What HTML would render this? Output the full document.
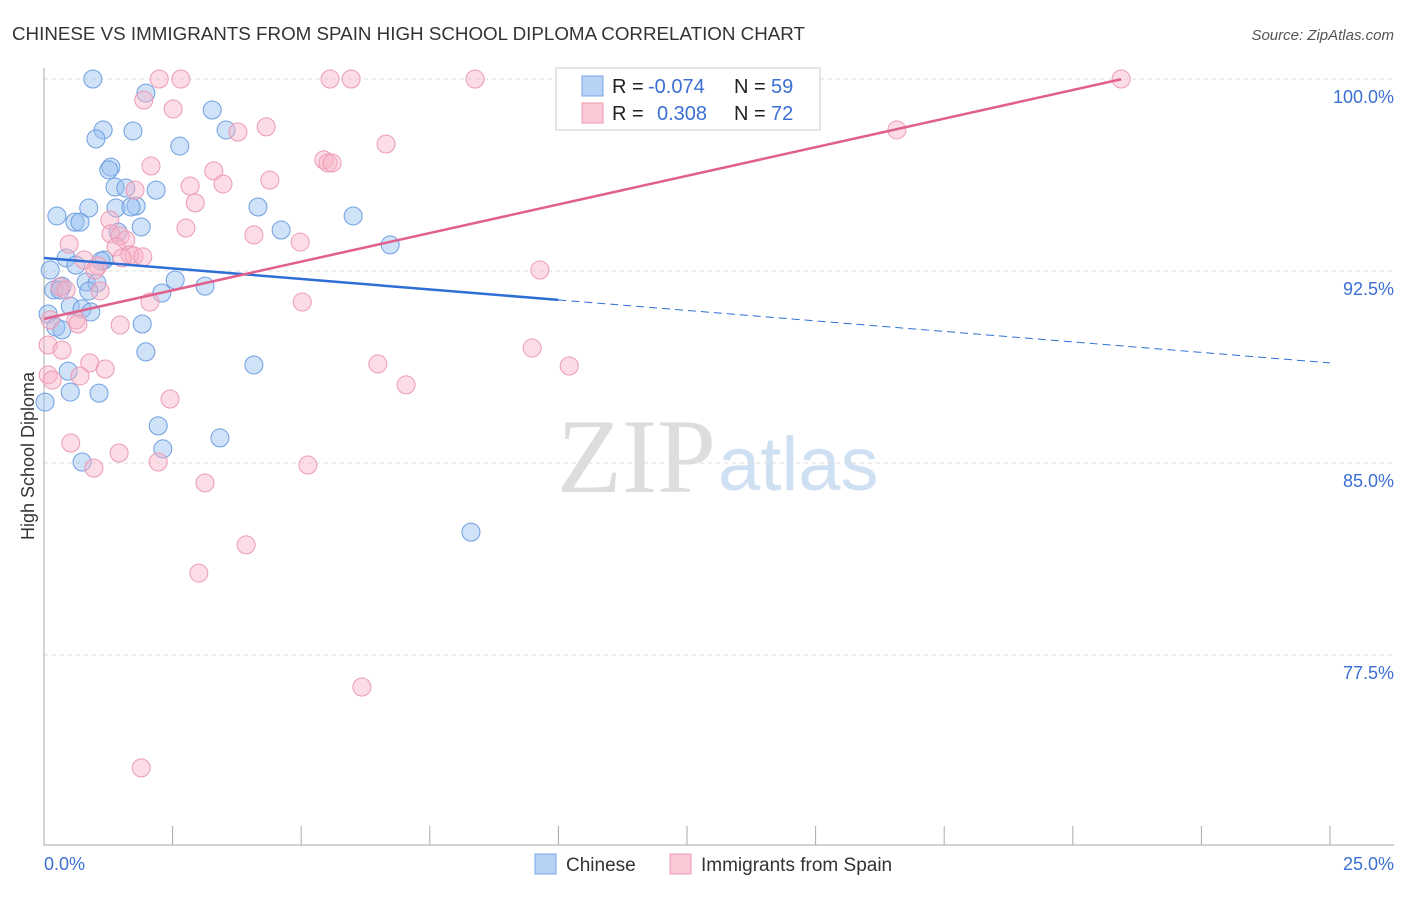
<!DOCTYPE html>
<html><head><meta charset="utf-8"><style>
body{margin:0;background:#fff;font-family:"Liberation Sans",sans-serif;}
</style></head><body>
<svg id="chart" width="1406" height="892" xmlns="http://www.w3.org/2000/svg" style="font-family:'Liberation Sans',sans-serif">
<text x="12" y="40" font-size="18" fill="#333" textLength="793" lengthAdjust="spacingAndGlyphs">CHINESE VS IMMIGRANTS FROM SPAIN HIGH SCHOOL DIPLOMA CORRELATION CHART</text>
<text x="1394" y="40" font-size="15" fill="#555" font-style="italic" text-anchor="end">Source: ZipAtlas.com</text>
<text x="716" y="492" font-size="106" text-anchor="end" fill="#ddd" font-family="Liberation Serif">ZIP</text>
<text x="718" y="490" font-size="76" fill="#cfe0f3">atlas</text>
<g id="grid"></g><g id="axes"></g><g id="pts"></g><g id="trends"></g>
<text transform="translate(34,456) rotate(-90)" font-size="18" fill="#333" text-anchor="middle">High School Diploma</text>
<text x="44" y="870" font-size="18" fill="#3b6fd4">0.0%</text>
<text x="1394" y="870" font-size="18" fill="#3b6fd4" text-anchor="end">25.0%</text>
<g>
<rect x="556" y="68" width="264" height="62" fill="#fff" stroke="#ccc"/>
<rect x="582" y="76" width="21" height="20" fill="#b8d2f5" stroke="#7aa6e6"/>
<rect x="582" y="103" width="21" height="20" fill="#fbc8d6" stroke="#ee9ab6"/>
<text x="612" y="93" font-size="20" fill="#222">R = <tspan x="648" fill="#3b6fd4">-0.074</tspan><tspan x="734">N = </tspan><tspan x="771" fill="#3b6fd4">59</tspan></text>
<text x="612" y="120" font-size="20" fill="#222">R = <tspan x="657" fill="#3b6fd4">0.308</tspan><tspan x="734">N = </tspan><tspan x="771" fill="#3b6fd4">72</tspan></text>
</g>
<g>
<rect x="535" y="854" width="21" height="20" fill="#b8d2f5" stroke="#7aa6e6"/>
<text x="566" y="871" font-size="19" fill="#333">Chinese</text>
<rect x="670" y="854" width="21" height="20" fill="#fbc8d6" stroke="#ee9ab6"/>
<text x="701" y="871" font-size="19" fill="#333">Immigrants from Spain</text>
</g>
</svg>
<script>
const yTicks=[100,92.5,85,77.5];
const yTickLabels=["100.0%","92.5%","85.0%","77.5%"];
const xTicks=[0,2.5,5,7.5,10,12.5,15,17.5,20,22.5,25];
const chineseX=[0.95,1.98,3.27,1.15,1.73,3.54,1.01,2.64,1.30,1.26,1.38,1.59,2.18,1.79,1.40,1.69,0.87,4.16,0.25,6.01,0.60,0.70,1.89,4.61,1.44,6.73,0.43,1.17,1.11,0.62,0.12,2.55,0.82,1.03,0.35,0.19,3.13,0.87,2.29,0.51,0.74,0.91,0.08,0.23,0.35,1.91,1.98,4.08,0.47,1.07,0.51,0.02,2.22,3.42,2.31,0.74,8.30,0.31];
const chineseY=[100,99.45,98.79,98.01,97.97,98.01,97.66,97.38,96.56,96.45,95.78,95.74,95.66,95.04,94.96,95.0,94.96,95.0,94.65,94.65,94.41,94.41,94.22,94.10,94.02,93.52,93.01,92.93,92.89,92.73,92.54,92.15,92.07,92.03,91.91,91.76,91.91,91.72,91.64,91.13,91.02,90.90,90.82,90.31,90.20,90.43,89.34,88.83,88.59,87.73,87.77,87.38,86.45,85.98,85.55,85.04,82.30,91.76];
const spainX=[2.24,2.66,5.56,5.97,8.38,11.16,11.98,20.94,1.94,2.51,4.32,3.77,16.58,6.65,2.08,3.30,5.44,5.52,5.60,4.39,2.84,3.48,1.77,2.94,1.28,2.76,4.08,4.98,0.49,1.30,1.48,1.59,1.40,1.67,1.75,1.92,1.52,0.78,1.05,0.99,9.64,0.31,0.43,1.09,2.06,5.02,0.62,0.66,1.48,0.12,0.08,0.35,9.49,0.89,1.19,6.49,10.21,0.08,0.70,0.16,7.04,2.45,0.52,1.46,2.22,0.97,5.13,3.13,3.93,3.01,6.18,1.89];
const spainY=[100,100,100,100,100,100,100,100,99.18,98.83,98.13,97.93,98.01,97.46,96.60,96.41,96.84,96.72,96.72,96.05,95.82,95.90,95.66,95.16,94.49,94.18,93.91,93.63,93.55,93.95,93.87,93.71,93.44,93.13,93.09,93.05,93.01,92.93,92.70,92.54,92.54,91.88,91.76,91.72,91.29,91.29,90.59,90.43,90.39,90.59,89.61,89.41,89.49,88.91,88.67,88.87,88.79,88.44,88.40,88.24,88.05,87.50,85.78,85.39,85.04,84.80,84.92,84.22,81.80,80.70,76.25,73.09];
const chineseTrend=[93.01,-0.164];
const spainTrend=[90.63,0.447];
const NS="http://www.w3.org/2000/svg";
const X=v=>44+v*51.44, Y=v=>79+(100-v)*25.6;
function mk(p,t,a){const e=document.createElementNS(NS,t);for(const k in a)e.setAttribute(k,a[k]);document.getElementById(p).appendChild(e);return e;}
yTicks.forEach((t,i)=>{
 let l=mk('grid','line',{x1:44,x2:1394,y1:Y(t),y2:Y(t),stroke:'#ddd','stroke-dasharray':'4,4'});
 
 
 let tx=mk('grid','text',{x:1394,y:Y(t)+24,'font-size':18,fill:'#3b6fd4','text-anchor':'end'});
 tx.textContent=yTickLabels[i];
 
 
});
let ax=mk('axes','path',{d:'M44,68V845H1394',fill:'none',stroke:'#aaa'});


xTicks.forEach(t=>{
 let l=mk('axes','line',{x1:X(t),x2:X(t),y1:826,y2:845,stroke:'#aaa'});
 
 
});
chineseX.forEach((v,i)=>{
 let c=mk('pts','circle',{cx:X(v),cy:Y(chineseY[i]),r:9,fill:'rgba(150,190,240,0.45)',stroke:'#6e9fe0','stroke-width':1});
 
 
});
spainX.forEach((v,i)=>{
 let c=mk('pts','circle',{cx:X(v),cy:Y(spainY[i]),r:9,fill:'rgba(248,180,200,0.45)',stroke:'#ec9ab6','stroke-width':1});
 
 
});
const bt=x=>chineseTrend[0]+chineseTrend[1]*x, pt=x=>spainTrend[0]+spainTrend[1]*x;
let b1=mk('trends','line',{x1:X(0),y1:Y(bt(0)),x2:X(10),y2:Y(bt(10)),stroke:'#2e6fd6','stroke-width':2.5});


let b2=mk('trends','line',{x1:X(10),y1:Y(bt(10)),x2:X(25),y2:Y(bt(25)),stroke:'#2e6fd6','stroke-width':1,'stroke-dasharray':'8,5'});


let p1=mk('trends','line',{x1:X(0),y1:Y(pt(0)),x2:X(20.94),y2:Y(pt(20.94)),stroke:'#e0608c','stroke-width':2.5});


</script>
</body></html>
